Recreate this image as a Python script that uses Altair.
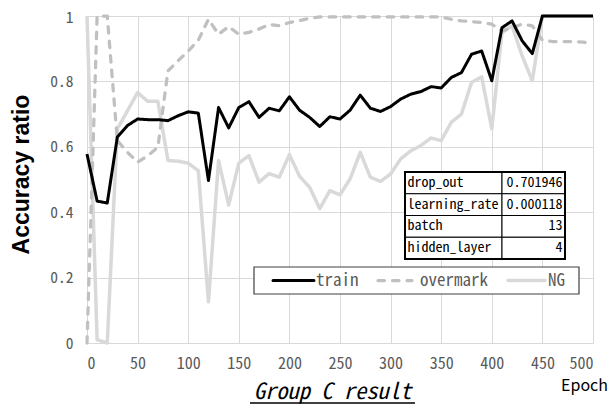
import altair as alt
import pandas as pd

# ---------------- data ----------------
epochs = list(range(0, 501, 10))

train = [0.578, 0.434, 0.428, 0.630, 0.665, 0.685, 0.683, 0.683, 0.680, 0.695,
         0.707, 0.703, 0.497, 0.720, 0.658, 0.720, 0.738, 0.690, 0.718, 0.710,
         0.753, 0.712, 0.690, 0.662, 0.692, 0.685, 0.712, 0.758, 0.718, 0.708,
         0.723, 0.746, 0.761, 0.769, 0.784, 0.780, 0.812, 0.827, 0.883, 0.893,
         0.802, 0.964, 0.985, 0.924, 0.885, 1.000, 1.000, 1.000, 1.000, 1.000,
         1.000]

overmark = [0.000, 1.000, 1.000, 0.619, 0.583, 0.553, 0.573, 0.598, 0.832, 0.863,
            0.893, 0.926, 0.990, 0.944, 0.968, 0.944, 0.950, 0.960, 0.974, 0.970,
            0.980, 0.986, 0.993, 0.997, 0.997, 0.997, 0.997, 0.997, 0.997, 0.997,
            0.997, 0.997, 0.997, 0.997, 0.997, 0.997, 0.990, 0.985, 0.983, 0.980,
            0.975, 0.954, 0.964, 0.975, 0.970, 0.926, 0.922, 0.922, 0.922, 0.920,
            0.918]

ng = [1.000, 0.010, 0.000, 0.655, 0.710, 0.766, 0.739, 0.739, 0.558, 0.556,
      0.550, 0.527, 0.126, 0.558, 0.422, 0.550, 0.573, 0.492, 0.518, 0.507,
      0.576, 0.510, 0.476, 0.411, 0.466, 0.453, 0.502, 0.583, 0.507, 0.494,
      0.517, 0.563, 0.588, 0.604, 0.627, 0.619, 0.675, 0.700, 0.797, 0.814,
      0.655, 0.949, 0.970, 0.878, 0.802, 1.000, 1.000, 1.000, 1.000, 1.000,
      1.000]

series_names = ["train", "overmark", "NG"]
series_colors = ["#000000", "#c0c0c0", "#d9d9d9"]

param_names = ["drop_out", "learning_rate", "batch", "hidden_layer"]
param_values = ["0.701946", "0.000118", "13", "4"]

x_ticks = list(range(0, 501, 50))
y_ticks = [0, 0.2, 0.4, 0.6, 0.8, 1.0]

title_text = "Group C result"
x_title = "Epoch"
y_title = "Accuracy ratio"

# ---------------- layout ----------------
PL, PT = 79, 8            # padding -> plot origin at (87, 16) on the page
W, H = 506, 327
OX, OY = 8 + PL, 8 + PT
MONO = "'Noto Sans Mono CJK JP', 'DejaVu Sans Mono', monospace"
SANS = "'Noto Sans CJK JP', 'Liberation Sans', sans-serif"


def ex(px):  # page pixel x -> epoch units
    return (px - OX) * 500.0 / W


def vy(py):  # page pixel y -> ratio units
    return 1.0 - (py - OY) / H


rows = []
for name, vals in [("NG", ng), ("overmark", overmark), ("train", train)]:
    for e, v in zip(epochs, vals):
        rows.append({"epoch": e, "value": v, "series": name})
df = pd.DataFrame(rows)

color_scale = alt.Scale(domain=series_names, range=series_colors)
dash_scale = alt.Scale(domain=series_names, range=[[1, 0], [6.5, 8], [1, 0]])
width_scale = alt.Scale(domain=series_names, range=[3, 3.5, 4])

x_enc = alt.X(
    "epoch:Q",
    scale=alt.Scale(domain=[0, 500], nice=False, zero=False),
    axis=alt.Axis(
        values=x_ticks, grid=True, gridColor="#d9d9d9", domain=False, ticks=False,
        labelFont=MONO, labelFontSize=16, labelColor="#595959", labelPadding=12,
        title=x_title, titleX=584 - OX, titleY=385 - (OY + H), titleAlign="center",
        titleBaseline="middle", titleFont=SANS, titleFontSize=16,
        titleFontWeight="normal", titleColor="#000000",
    ),
)
y_enc = alt.Y(
    "value:Q",
    scale=alt.Scale(domain=[0, 1], nice=False),
    axis=alt.Axis(
        values=y_ticks, grid=True, gridColor="#d9d9d9", domain=False, ticks=False,
        labelFont=MONO, labelFontSize=15.5, labelColor="#595959", labelPadding=14,
        labelOffset={"condition": {"test": "datum.value == 1", "value": 1}, "value": 0},
        labelExpr="datum.value == 0 ? '0' : datum.value == 1 ? '1' : format(datum.value, '.1f')",
        title=y_title, titleX=21 - OX, titleY=174 - OY, titleAngle=270, titleAlign="center",
        titleBaseline="middle", titleFont="Liberation Sans", titleFontSize=23,
        titleFontWeight="bold", titleColor="#000000",
    ),
)

base = alt.Chart(df)


def series_layer(name, cap):
    return base.transform_filter(alt.datum.series == name).mark_line(
        strokeJoin="round", strokeCap=cap
    ).encode(
        x=x_enc,
        y=y_enc,
        color=alt.Color("series:N", scale=color_scale, legend=None),
        strokeDash=alt.StrokeDash("series:N", scale=dash_scale, legend=None),
        strokeWidth=alt.StrokeWidth("series:N", scale=width_scale, legend=None),
    )


lines = [series_layer("NG", "butt"), series_layer("overmark", "round"), series_layer("train", "butt")]

# ---------------- parameter table ----------------
t_left, t_div, t_right, t_top, row_h = 405, 502, 565, 172, 21.75
tab = pd.DataFrame({
    "name": param_names,
    "val": param_values,
    "x0": [ex(t_left)] * 4,
    "xd": [ex(t_div)] * 4,
    "x1": [ex(t_right)] * 4,
    "xl": [ex(t_left + 2.5)] * 4,
    "xr": [ex(t_right - 2.5)] * 4,
    "yt": [vy(t_top + i * row_h) for i in range(4)],
    "yb": [vy(t_top + (i + 1) * row_h) for i in range(4)],
    "ym": [vy(t_top + (i + 0.5) * row_h) for i in range(4)],
})
tbase = alt.Chart(tab)
cell_l = tbase.mark_rect(fill="white", stroke="#000000", strokeWidth=1).encode(
    x="x0:Q", x2="xd:Q", y="yt:Q", y2="yb:Q")
cell_r = tbase.mark_rect(fill="white", stroke="#000000", strokeWidth=1).encode(
    x="xd:Q", x2="x1:Q", y="yt:Q", y2="yb:Q")
outer = alt.Chart(pd.DataFrame({
    "x0": [ex(t_left)], "x1": [ex(t_right)], "yt": [vy(t_top)], "yb": [vy(t_top + 4 * row_h)]
})).mark_rect(fill=None, stroke="#000000", strokeWidth=2).encode(
    x="x0:Q", x2="x1:Q", y="yt:Q", y2="yb:Q")
txt_l = tbase.mark_text(align="left", baseline="middle", font=MONO, fontSize=14, color="#000000").encode(
    x="xl:Q", y="ym:Q", text="name:N")
txt_r = tbase.mark_text(align="right", baseline="middle", font=MONO, fontSize=14, color="#000000").encode(
    x="xr:Q", y="ym:Q", text="val:N")

# ---------------- legend ----------------
lg_box = alt.Chart(pd.DataFrame({
    "x0": [ex(254)], "x1": [ex(579)], "yt": [vy(267)], "yb": [vy(294)]
})).mark_rect(fill="white", stroke="#404040", strokeWidth=1.2).encode(
    x="x0:Q", x2="x1:Q", y="yt:Q", y2="yb:Q")
lg_y = vy(280.5)
lg = pd.DataFrame({
    "series": series_names,
    "s0": [ex(273), ex(378), ex(508)],
    "s1": [ex(314), ex(412), ex(545)],
    "lx": [ex(316), ex(420), ex(548)],
    "y": [lg_y] * 3,
})
lg_sym = alt.Chart(lg).mark_rule(strokeCap="round").encode(
    x="s0:Q", x2="s1:Q", y="y:Q",
    color=alt.Color("series:N", scale=color_scale, legend=None),
    strokeDash=alt.StrokeDash("series:N", scale=dash_scale, legend=None),
    strokeWidth=alt.StrokeWidth("series:N", scale=width_scale, legend=None),
)
lg_txt = alt.Chart(lg).mark_text(align="left", baseline="middle", font=MONO, fontSize=17,
                                 color="#595959").encode(x="lx:Q", y="y:Q", text="series:N")

# ---------------- bottom title ----------------
title_mark = alt.Chart(pd.DataFrame({"t": [title_text]})).mark_text(
    align="center", baseline="alphabetic", font=MONO, fontSize=22.5, fontStyle="italic", color="#000000"
).encode(x=alt.value(332.5 - OX), y=alt.value(398.5 - OY), text="t:N")
underline = alt.Chart(pd.DataFrame({"t": [title_text]})).mark_rule(
    color="#000000", strokeWidth=1.5
).encode(x=alt.value(250 - OX), x2=alt.value(415 - OX), y=alt.value(403 - OY))

chart = alt.layer(
    *lines, cell_l, cell_r, outer, txt_l, txt_r, lg_box, lg_sym, lg_txt, title_mark, underline
).resolve_scale(color="shared").properties(
    width=W, height=H,
    autosize=alt.AutoSizeParams(type="none"),
    padding={"left": PL, "top": PT, "right": 600 - PL - W, "bottom": 396 - PT - H},
    background="white",
).configure_view(stroke=None)

chart.save("out.html", embed_options={"renderer": "svg", "actions": False})
